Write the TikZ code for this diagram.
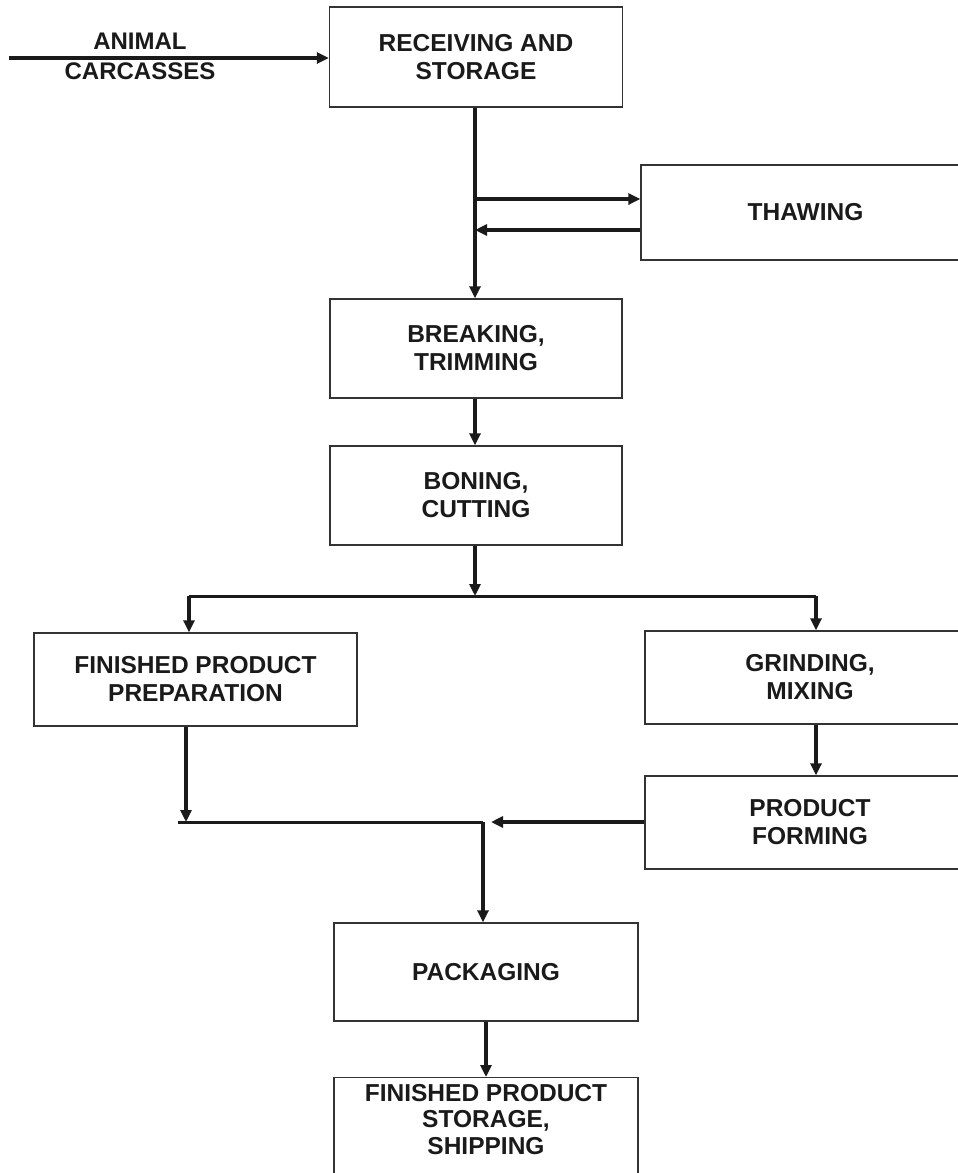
\documentclass[tikz,border=0pt]{standalone}
\usepackage{fontspec}
\setmainfont{Liberation Sans}
\usetikzlibrary{arrows.meta}
\definecolor{ink}{HTML}{1A1A1A}
\definecolor{edge}{HTML}{333333}
\tikzset{
  txt/.style={align=center, inner sep=0pt, text=ink, font=\fontsize{24.5}{28}\selectfont\bfseries},
  box/.style={txt, draw=edge, line width=1.4pt},
  arr/.style={line width=3.1pt, draw=ink, -{Triangle[length=12pt,width=11pt]}},
  ln/.style={line width=3pt, draw=ink},
}
\begin{document}
\begin{tikzpicture}[x=1pt,y=-1pt]
\useasboundingbox (0,0) rectangle (958,1173);
\clip (0,0) rectangle (958,1173);

% boxes
\node[box, minimum width=293pt, minimum height=100pt] (recv) at (476,57) {RECEIVING AND\\STORAGE};
\node[box, minimum width=329pt, minimum height=95pt] (thaw) at (805.5,212.5) {THAWING};
\node[box, minimum width=292pt, minimum height=99pt] (break) at (476,348.5) {BREAKING,\\TRIMMING};
\node[box, minimum width=292pt, minimum height=99pt] (bone) at (476,495.5) {BONING,\\CUTTING};
\node[box, minimum width=323pt, minimum height=93pt] (fpp) at (195.5,679.5) {FINISHED PRODUCT\\PREPARATION};
\node[box, minimum width=330pt, minimum height=93pt] (grind) at (810,677.5) {GRINDING,\\MIXING};
\node[box, minimum width=330pt, minimum height=93pt] (form) at (810,822.5) {PRODUCT\\FORMING};
\node[box, minimum width=304pt, minimum height=98pt] (pack) at (486,972) {PACKAGING};
\node[box, minimum width=304pt, minimum height=120pt, anchor=north,
      label={[txt, anchor=north, yshift=-7pt, font=\fontsize{24.5}{26.5}\selectfont\bfseries]north:FINISHED PRODUCT\\STORAGE,\\SHIPPING}]
      (final) at (486,1077) {};

% input
\node[txt, font=\fontsize{24}{30}\selectfont\bfseries] (animal) at (140,56.5) {ANIMAL\\CARCASSES};
\coordinate (start) at (9,58);
\draw[arr] (start) -- (recv.west |- start);

% main spine and thawing loop
\coordinate (t1) at (475,199);
\coordinate (t2) at (475,230);
\draw[arr] (recv.south -| t1) -- (break.north -| t1);
\draw[arr] (t1) -- (thaw.west |- t1);
\draw[arr] (thaw.west |- t2) -- (t2);
\draw[arr] (break.south -| t1) -- (bone.north -| t1);

% split
\coordinate (split) at (475,596);
\coordinate (sl) at (189,596);
\coordinate (sr) at (816,596);
\draw[arr] (bone.south -| split) -- (split);
\draw[ln] (sl) -- (sr);
\draw[arr] (sl) -- (sl |- fpp.north);
\draw[arr] (sr) -- (sr |- grind.north);
\draw[arr] (grind.south -| sr) -- (form.north -| sr);

% merge
\coordinate (fd) at (186,822);
\coordinate (ml) at (178,822);
\coordinate (mj) at (483,822);
\coordinate (mt) at (491,822);
\draw[arr] (fpp.south -| fd) -- (fd);
\draw[ln] (ml) -- (mj);
\draw[arr, line width=3.8pt] (form.west |- mt) -- (mt);
\draw[arr] (mj) -- (mj |- pack.north);
\draw[arr] (pack.south) -- (final.north);
\end{tikzpicture}
\end{document}
